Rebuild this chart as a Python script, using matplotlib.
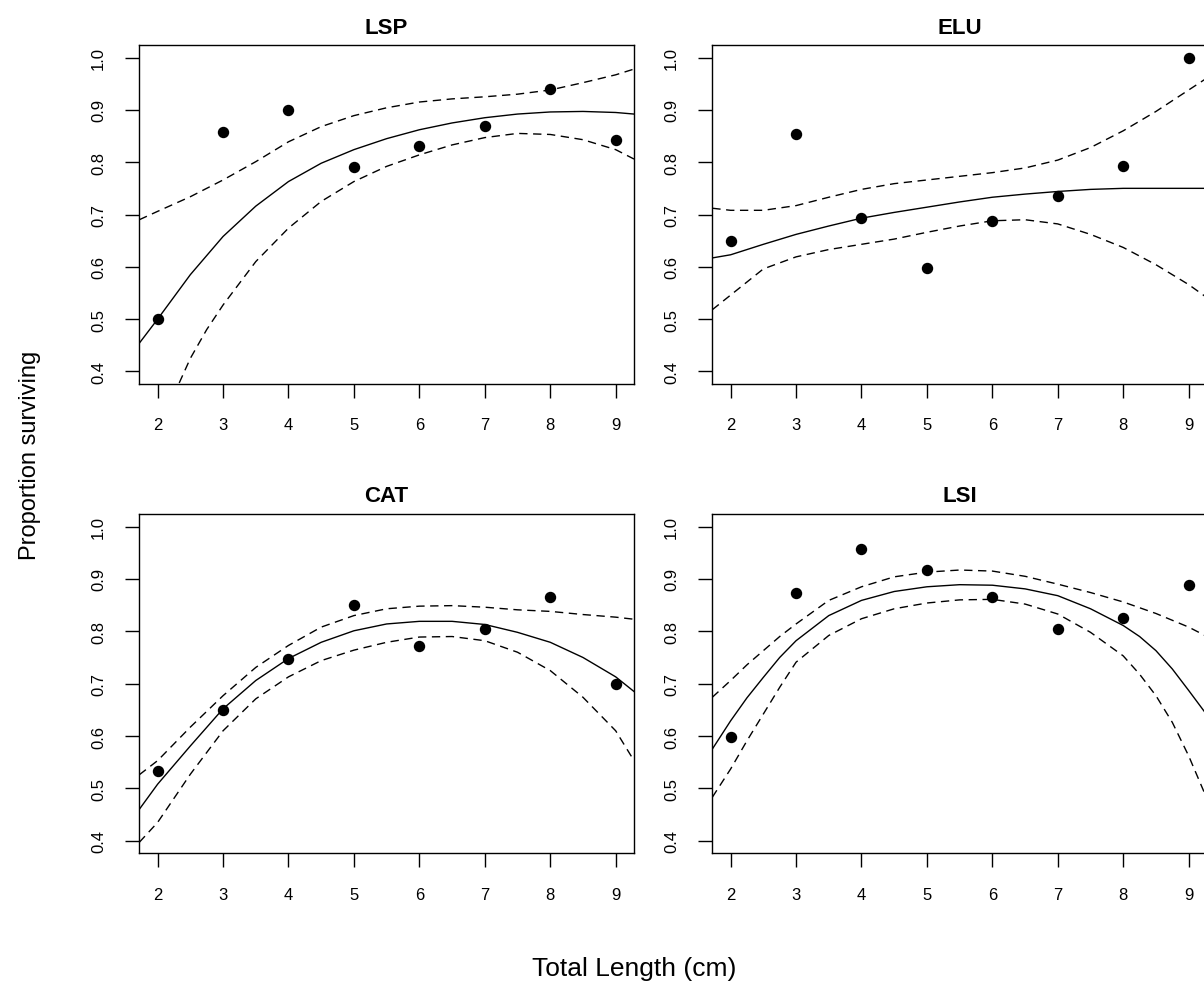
import numpy as np
import matplotlib.pyplot as plt

plt.rcParams['font.family'] = ['Liberation Sans', 'DejaVu Sans']

# observed proportions surviving by total length (cm)
lengths = [2, 3, 4, 5, 6, 7, 8, 9]
lsp_obs = [0.500, 0.857, 0.900, 0.790, 0.830, 0.869, 0.939, 0.842]
elu_obs = [0.650, 0.854, 0.693, 0.597, 0.687, 0.736, 0.793, 1.000]
cat_obs = [0.533, 0.649, 0.748, 0.851, 0.772, 0.804, 0.866, 0.700]
lsi_obs = [0.599, 0.873, 0.958, 0.917, 0.866, 0.805, 0.826, 0.889]

# fitted curve + 95% bands
grid = [1.72, 2.0, 2.5, 3.0, 3.5, 4.0, 4.5, 5.0, 5.5, 6.0, 6.5, 7.0, 7.5, 8.0, 8.5, 9.0, 9.28]

lsp_fit = [0.454, 0.500, 0.585, 0.658, 0.716, 0.763, 0.798, 0.824, 0.845, 0.862, 0.875, 0.885, 0.892, 0.896, 0.897, 0.895, 0.892]
lsp_hi = [0.690, 0.706, 0.734, 0.766, 0.801, 0.839, 0.868, 0.889, 0.904, 0.915, 0.921, 0.925, 0.930, 0.938, 0.952, 0.967, 0.978]
lsp_lo_x = [2.33, 2.5, 2.75, 3.0, 3.5, 4.0, 4.5, 5.0, 5.5, 6.0, 6.5, 7.0, 7.5, 8.0, 8.5, 9.0, 9.28]
lsp_lo = [0.378, 0.425, 0.480, 0.527, 0.610, 0.674, 0.725, 0.763, 0.792, 0.814, 0.833, 0.847, 0.855, 0.853, 0.843, 0.824, 0.806]

elu_fit = [0.617, 0.623, 0.643, 0.662, 0.678, 0.693, 0.704, 0.714, 0.724, 0.733, 0.739, 0.744, 0.748, 0.750, 0.750, 0.750, 0.750]
elu_hi = [0.712, 0.708, 0.708, 0.717, 0.733, 0.748, 0.759, 0.766, 0.773, 0.780, 0.789, 0.804, 0.828, 0.860, 0.897, 0.938, 0.961]
elu_lo = [0.518, 0.546, 0.596, 0.619, 0.633, 0.643, 0.653, 0.666, 0.678, 0.688, 0.690, 0.682, 0.662, 0.637, 0.604, 0.566, 0.541]

cat_fit = [0.460, 0.508, 0.581, 0.652, 0.706, 0.748, 0.779, 0.801, 0.814, 0.819, 0.819, 0.813, 0.798, 0.779, 0.750, 0.713, 0.685]
cat_hi = [0.526, 0.553, 0.617, 0.677, 0.731, 0.773, 0.808, 0.830, 0.843, 0.848, 0.849, 0.846, 0.841, 0.838, 0.832, 0.827, 0.823]
cat_lo = [0.397, 0.435, 0.527, 0.610, 0.671, 0.713, 0.744, 0.764, 0.779, 0.789, 0.790, 0.782, 0.760, 0.725, 0.674, 0.610, 0.553]

# LSI curves bend hard at both ends, so read them on a finer grid
lsi_x = [1.72, 2.0, 2.25, 2.5, 2.75, 3.0, 3.5, 4.0, 4.5, 5.0, 5.5, 6.0, 6.5, 7.0, 7.5, 8.0, 8.25, 8.5, 8.75, 9.0, 9.28]
lsi_fit = [0.575, 0.629, 0.673, 0.712, 0.750, 0.782, 0.830, 0.859, 0.876, 0.885, 0.889, 0.888, 0.881, 0.868, 0.843, 0.811, 0.790, 0.763, 0.728, 0.687, 0.640]
lsi_hi = [0.674, 0.706, 0.736, 0.763, 0.790, 0.814, 0.859, 0.885, 0.904, 0.913, 0.917, 0.915, 0.905, 0.890, 0.874, 0.856, 0.845, 0.834, 0.821, 0.808, 0.790]
lsi_lo = [0.483, 0.537, 0.591, 0.642, 0.693, 0.741, 0.792, 0.824, 0.843, 0.854, 0.860, 0.861, 0.852, 0.833, 0.798, 0.753, 0.718, 0.677, 0.626, 0.562, 0.480]

yticks = [0.4, 0.5, 0.6, 0.7, 0.8, 0.9, 1.0]

fig = plt.figure(figsize=(12.04, 9.87), dpi=100)

W, H = 1204, 987
def panel(l, t, r, b):
    return fig.add_axes([l / W, 1 - b / H, (r - l) / W, (b - t) / H])

panels = [
    ("LSP", panel(139.3, 46, 634, 385), lsp_obs, (grid, lsp_fit), (grid, lsp_hi), (lsp_lo_x, lsp_lo)),
    ("ELU", panel(712.3, 46, 1207, 385), elu_obs, (grid, elu_fit), (grid, elu_hi), (grid, elu_lo)),
    ("CAT", panel(139.3, 515, 634, 854.3), cat_obs, (grid, cat_fit), (grid, cat_hi), (grid, cat_lo)),
    ("LSI", panel(712.3, 515, 1207, 854.3), lsi_obs, (lsi_x, lsi_fit), (lsi_x, lsi_hi), (lsi_x, lsi_lo)),
]

for name, ax, obs, fit, hi, lo in panels:
    ax.plot(fit[0], fit[1], color='black', lw=1.0)
    ax.plot(hi[0], hi[1], color='black', lw=1.0, ls=(0, (6, 4)))
    ax.plot(lo[0], lo[1], color='black', lw=1.0, ls=(0, (6, 4)))
    ax.plot(lengths, obs, 'o', color='black', ms=7.2)
    ax.set_xlim(1.72, 9.28)
    ax.set_ylim(0.376, 1.024)
    ax.set_xticks(lengths)
    ax.set_yticks(yticks)
    ax.set_yticklabels([f"{v:.1f}" for v in yticks], rotation=90, va='center')
    ax.tick_params(direction='out', length=10, width=1.0, labelsize=12, pad=14, color='black')
    for s in ax.spines.values():
        s.set_linewidth(1.0)
    ax.set_title(name, fontsize=16, fontweight='bold', pad=9)

fig.text(634 / W, 1 - 969 / H, "Total Length (cm)", ha='center', va='center', fontsize=19)
fig.text(30 / W, 1 - 455 / H, "Proportion surviving", ha='center', va='center', rotation=90, fontsize=17)

fig.savefig("out.png", dpi=100)
